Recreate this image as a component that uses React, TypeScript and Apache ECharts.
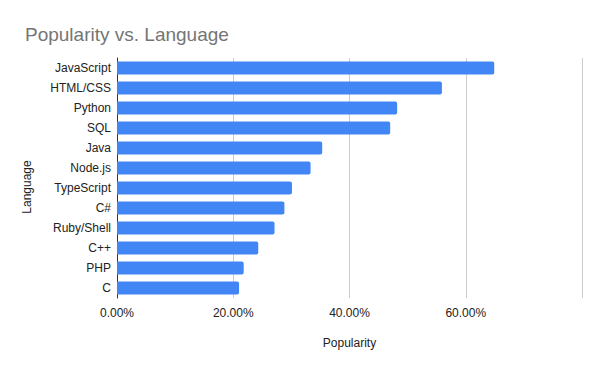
import React, { useEffect, useRef } from "react";
import * as echarts from "echarts";

const languages = [
  "JavaScript",
  "HTML/CSS",
  "Python",
  "SQL",
  "Java",
  "Node.js",
  "TypeScript",
  "C#",
  "Ruby/Shell",
  "C++",
  "PHP",
  "C",
];
const popularity = [64.9, 55.9, 48.2, 47.0, 35.3, 33.3, 30.1, 28.8, 27.1, 24.3, 21.8, 21.0];

const FONT = "Liberation Sans, Arial, sans-serif";

export default function App() {
  const ref = useRef<HTMLDivElement>(null);
  useEffect(() => {
    if (!ref.current) return;
    const chart = echarts.init(ref.current, undefined, { renderer: "svg" });
    chart.setOption({
      animation: false,
      backgroundColor: "#ffffff",
      title: {
        text: "Popularity vs. Language",
        left: 20,
        top: 20,
        textStyle: { color: "#757575", fontSize: 19, fontWeight: "normal", fontFamily: FONT },
      },
      grid: { left: 117, right: 18, top: 58, bottom: 73, containLabel: false },
      xAxis: {
        type: "value",
        min: 0,
        max: 80,
        interval: 20,
        name: "Popularity",
        nameLocation: "middle",
        nameGap: 39,
        nameTextStyle: { color: "#222222", fontSize: 12, fontFamily: FONT },
        axisLine: { show: false },
        axisTick: { show: false },
        splitLine: { show: true, lineStyle: { color: "#cccccc", width: 1 } },
        axisLabel: {
          color: "#222222",
          fontSize: 12,
          fontFamily: FONT,
          margin: 9,
          showMaxLabel: false,
          formatter: (v: number) => v.toFixed(2) + "%",
        },
      },
      yAxis: {
        type: "category",
        data: languages,
        inverse: true,
        axisLine: { show: true, lineStyle: { color: "#333333", width: 1 } },
        axisTick: { show: false },
        axisLabel: { color: "#222222", fontSize: 12, fontFamily: FONT, margin: 6 },
      },
      graphic: [
        {
          type: "text",
          x: 27,
          y: 187,
          rotation: Math.PI / 2,
          style: {
            text: "Language",
            fill: "#222222",
            fontSize: 12,
            fontFamily: FONT,
            align: "center",
            verticalAlign: "middle",
          },
        },
      ],
      series: [
        {
          type: "bar",
          data: popularity,
          barWidth: 13,
          itemStyle: { color: "#4285f4", borderRadius: [0, 2, 2, 0] },
        },
      ],
    });
    return () => chart.dispose();
  }, []);
  return <div ref={ref} style={{ width: 600, height: 371, position: "absolute", left: 0, top: 0 }} />;
}
